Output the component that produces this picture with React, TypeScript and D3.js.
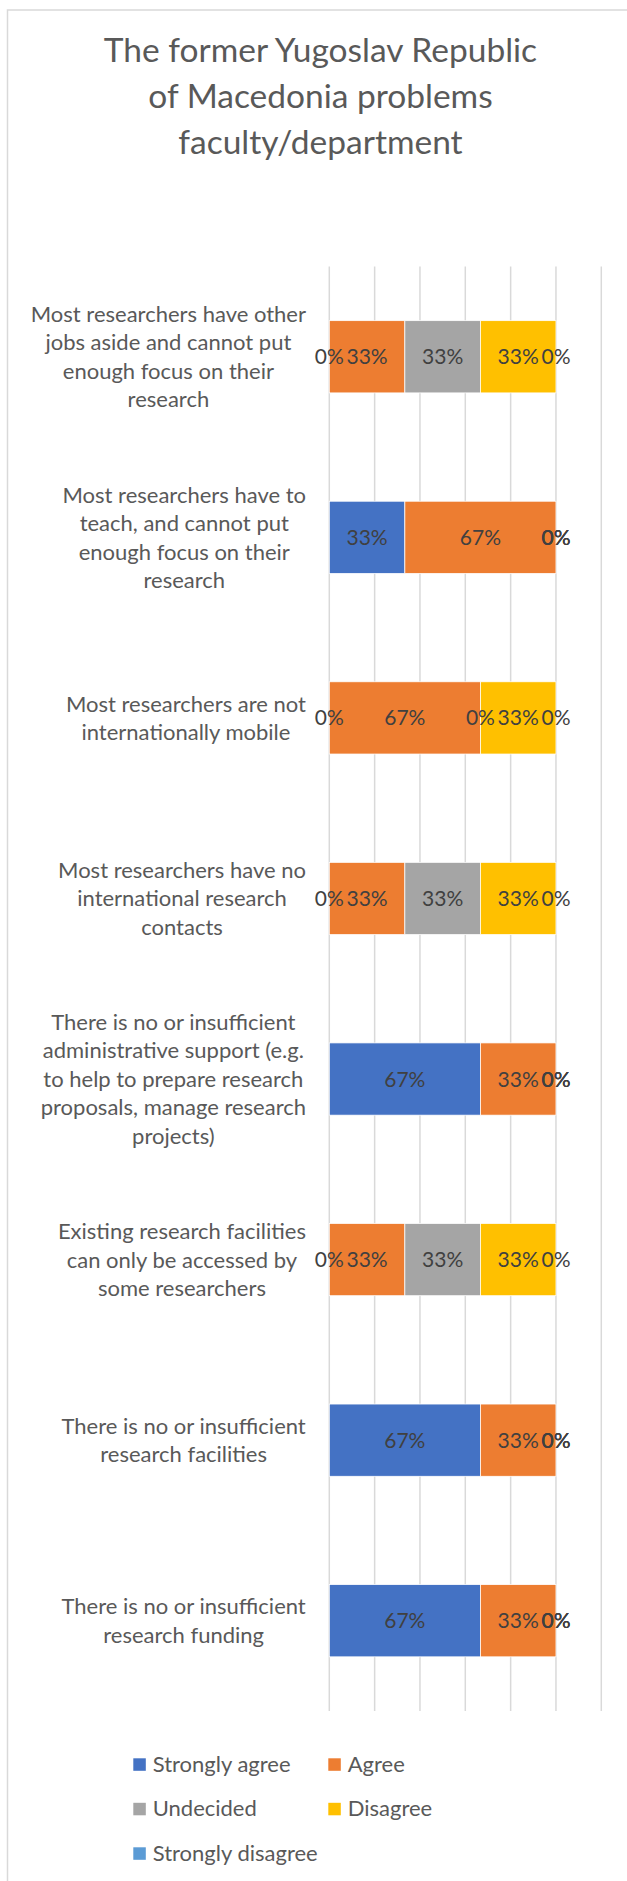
import React from "react";
import * as d3 from "d3";

const TITLE_LINES = ["The former Yugoslav Republic", "of Macedonia problems", "faculty/department"];

const CATEGORY_LINES: string[][] = [
  ["Most researchers have other", "jobs aside and cannot put", "enough focus on their", "research"],
  ["Most researchers have to", "teach, and cannot put", "enough focus on their", "research"],
  ["Most researchers are not", "internationally mobile"],
  ["Most researchers have no", "international research", "contacts"],
  ["There is no or insufficient", "administrative support (e.g.", "to help to prepare research", "proposals, manage research", "projects)"],
  ["Existing research facilities", "can only be accessed by", "some researchers"],
  ["There is no or insufficient", "research facilities"],
  ["There is no or insufficient", "research funding"],
];

const SERIES = ["Strongly agree", "Agree", "Undecided", "Disagree", "Strongly disagree"];
const COLORS = ["#4472C4", "#ED7D31", "#A5A5A5", "#FFC000", "#5B9BD5"];

const stronglyAgree = [0, 1 / 3, 0, 0, 2 / 3, 0, 2 / 3, 2 / 3];
const agree = [1 / 3, 2 / 3, 2 / 3, 1 / 3, 1 / 3, 1 / 3, 1 / 3, 1 / 3];
const undecided = [1 / 3, 0, 0, 1 / 3, 0, 1 / 3, 0, 0];
const disagree = [1 / 3, 0, 1 / 3, 1 / 3, 0, 1 / 3, 0, 0];
const stronglyDisagree = [0, 0, 0, 0, 0, 0, 0, 0];

const X_TICKS = [0, 0.2, 0.4, 0.6, 0.8, 1.0, 1.2];

const FONT = "Lato, 'Open Sans', sans-serif";
const FS = 22;
const DFS = 21;
const LINE_H = 28.5;

function measure(text: string, font: string): number {
  const c = document.createElement("canvas");
  const ctx = c.getContext("2d")!;
  ctx.font = font;
  return ctx.measureText(text).width;
}

export default function App() {
  const W = 627;
  const H = 1881;
  const x = d3.scaleLinear().domain([0, 1.2]).range([329.3, 601.3]);
  const cats = CATEGORY_LINES.map((_, i) => String(i));
  const y = d3.scaleBand().domain(cats).range([266.5, 1711]).paddingInner(0.6).paddingOuter(0.3);
  const seriesVals = [stronglyAgree, agree, undecided, disagree, stronglyDisagree];
  const rows = cats.map((_, i) => {
    const obj: any = { key: String(i) };
    SERIES.forEach((s, k) => (obj[s] = seriesVals[k][i]));
    return obj;
  });
  const stacked = d3.stack().keys(SERIES)(rows);
  const labelRight = 306;

  return (
    <svg width={W} height={H} style={{ position: "absolute", left: 0, top: 0, background: "#fff" }}>
      <rect x={7.5} y={10} width={700} height={2000} fill="#fff" stroke="#d9d9d9" strokeWidth={1.5} />
      {TITLE_LINES.map((t, i) => (
        <text key={i} x={320.5} y={62 + i * 46} textAnchor="middle" fontFamily={FONT} fontSize={33.5} fill="#595959">
          {t}
        </text>
      ))}
      {X_TICKS.map((t) => (
        <line key={t} x1={x(t)} x2={x(t)} y1={266.5} y2={1711} stroke="#d9d9d9" strokeWidth={1.5} />
      ))}
      {stacked.map((layer, k) =>
        layer.map((d, i) => (
          <rect
            key={k + "-" + i}
            x={x(d[0])}
            y={y(String(i))}
            width={x(d[1]) - x(d[0])}
            height={y.bandwidth()}
            fill={COLORS[k]}
            stroke="#fff"
            strokeWidth={d[1] - d[0] > 0 ? 0.75 : 0}
          />
        ))
      )}
      {stacked.map((layer, k) =>
        layer.map((d, i) => (
          <text
            key={"l" + k + "-" + i}
            x={(x(d[0]) + x(d[1])) / 2}
            y={y(String(i))! + y.bandwidth() / 2 + 0.36 * DFS}
            textAnchor="middle"
            fontFamily={FONT}
            fontSize={DFS}
            fill="#404040"
          >
            {d3.format(".0%")(d[1] - d[0])}
          </text>
        ))
      )}
      {CATEGORY_LINES.map((lines, i) => {
        const widths = lines.map((l) => measure(l, `${FS}px Lato`));
        const bw = Math.max(...widths);
        const cx = labelRight - bw / 2;
        const cy = y(String(i))! + y.bandwidth() / 2;
        const first = cy - ((lines.length - 1) / 2) * LINE_H + 0.36 * FS;
        return (
          <g key={"c" + i}>
            {lines.map((l, j) => (
              <text key={j} x={cx} y={first + j * LINE_H} textAnchor="middle" fontFamily={FONT} fontSize={FS} fill="#595959">
                {l}
              </text>
            ))}
          </g>
        );
      })}
      {SERIES.map((s, k) => {
        const col = k % 2;
        const row = Math.floor(k / 2);
        const sx = 133.3 + col * 195;
        const sy = 1758.3 + row * 44.5;
        return (
          <g key={"lg" + k}>
            <rect x={sx} y={sy} width={12.5} height={12.5} fill={COLORS[k]} />
            <text x={sx + 19.4} y={sy + 13.5} fontFamily={FONT} fontSize={FS} fill="#595959">
              {s}
            </text>
          </g>
        );
      })}
    </svg>
  );
}
